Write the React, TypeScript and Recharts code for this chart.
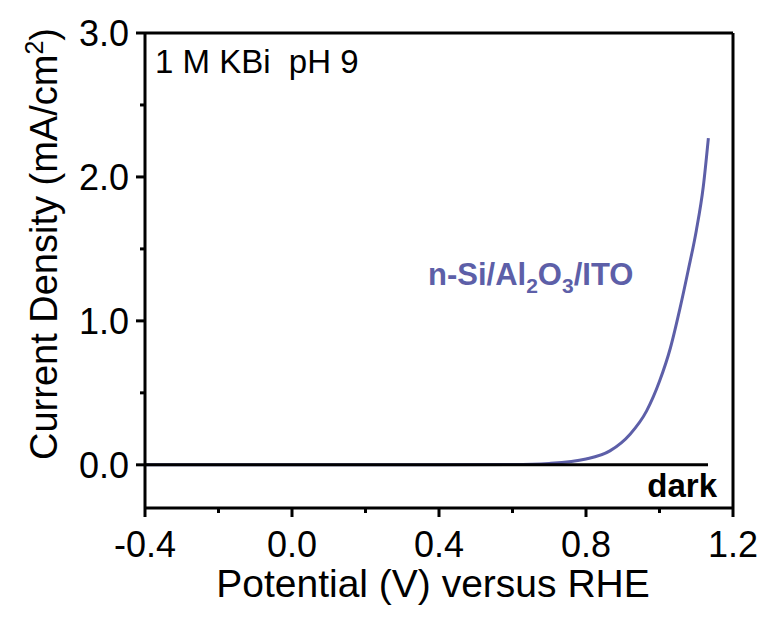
import { LineChart, Line, XAxis, YAxis, ReferenceLine } from 'recharts';

// potential (V vs RHE) for the illuminated n-Si/Al2O3/ITO sweep
const lightPotential = [-0.4, 0.0, 0.4, 0.6, 0.7, 0.8, 0.865, 0.92, 0.965, 1.0, 1.03, 1.056, 1.078, 1.1, 1.119, 1.133];
const lightCurrent = [0, 0, 0, 0.002, 0.01, 0.04, 0.097, 0.213, 0.375, 0.58, 0.815, 1.09, 1.35, 1.625, 1.93, 2.27];

// dark sweep stays flat at zero
const darkPotential = [-0.4, 0.4, 1.132];
const darkCurrent = [0, 0, 0];

const xMajor = [-0.4, 0.0, 0.4, 0.8, 1.2];
const xMinor = [-0.2, 0.2, 0.6, 1.0];
const yMajor = [0, 1, 2, 3];
const yMinor = [0.5, 1.5, 2.5];

const lightData = lightPotential.map((v, i) => ({ v, j: lightCurrent[i] }));
const darkData = darkPotential.map((v, i) => ({ v, j: darkCurrent[i] }));

const FONT = 'Arial, "Liberation Sans", sans-serif';
const BLUE = '#5d5fa8';

function XTick(props: any) {
  const { x, y, payload } = props;
  const major = xMajor.some((t) => Math.abs(t - payload.value) < 1e-6);
  return (
    <g>
      <line x1={x} y1={y} x2={x} y2={y + (major ? 9 : 5)} stroke="#000" strokeWidth={3} />
      {major && (
        <text x={x} y={y + 49} textAnchor="middle" fontSize={36} fontFamily={FONT} fill="#000">
          {payload.value.toFixed(1)}
        </text>
      )}
    </g>
  );
}

function YTick(props: any) {
  const { x, y, payload } = props;
  const major = yMajor.some((t) => Math.abs(t - payload.value) < 1e-6);
  return (
    <g>
      <line x1={x} y1={y} x2={x - (major ? 9 : 5)} y2={y} stroke="#000" strokeWidth={3} />
      {major && (
        <text x={x - 16} y={y + 13} textAnchor="end" fontSize={36} fontFamily={FONT} fill="#000">
          {payload.value.toFixed(1)}
        </text>
      )}
    </g>
  );
}

export default function App() {
  return (
    <div style={{ position: 'absolute', left: 0, top: 0, background: '#fff' }}>
      <LineChart width={769} height={619} margin={{ top: 33, right: 36, bottom: 0, left: 0 }}>
        <XAxis
          type="number"
          dataKey="v"
          domain={[-0.4, 1.2]}
          ticks={[...xMajor, ...xMinor].sort((a, b) => a - b)}
          interval={0}
          height={111}
          tickSize={0}
          tickMargin={0}
          tickLine={false}
          axisLine={{ stroke: '#000', strokeWidth: 3 }}
          tick={XTick}
          allowDataOverflow
          label={{
            value: 'Potential (V) versus RHE',
            position: 'insideBottom',
            offset: 22,
            dx: -6,
            fontSize: 39,
            fontFamily: FONT,
            fill: '#000',
          }}
        />
        <YAxis
          type="number"
          domain={[-0.3, 3.0]}
          ticks={[...yMajor, ...yMinor].sort((a, b) => a - b)}
          interval={0}
          width={145}
          tickSize={0}
          tickMargin={0}
          tickLine={false}
          axisLine={{ stroke: '#000', strokeWidth: 3 }}
          tick={YTick}
          allowDataOverflow
        />
        <ReferenceLine y={3} stroke="#000" strokeWidth={3} />
        <ReferenceLine x={1.2} stroke="#000" strokeWidth={3} />
        <Line
          data={lightData}
          dataKey="j"
          type="monotone"
          stroke={BLUE}
          strokeWidth={3}
          dot={false}
          isAnimationActive={false}
        />
        <Line
          data={darkData}
          dataKey="j"
          type="linear"
          stroke="#000"
          strokeWidth={3}
          dot={false}
          isAnimationActive={false}
        />
        <text
          x={57}
          y={244}
          transform="rotate(-90, 57, 244)"
          textAnchor="middle"
          fontSize={38}
          fontFamily={FONT}
          fill="#000"
        >
          Current Density (mA/cm
          <tspan dy={-14} fontSize={25}>2</tspan>
          <tspan dy={14}>)</tspan>
        </text>
        <text x={155} y={73} fontSize={33} fontFamily={FONT} fill="#000" style={{ whiteSpace: 'pre' }}>
          {'1 M KBi  pH 9'}
        </text>
        <text x={428} y={285} fontSize={31} fontWeight="bold" fontFamily={FONT} fill={BLUE}>
          n-Si/Al
          <tspan dy={8} fontSize={21}>2</tspan>
          <tspan dy={-8}>O</tspan>
          <tspan dy={8} fontSize={21}>3</tspan>
          <tspan dy={-8}>/ITO</tspan>
        </text>
        <text x={717} y={497} textAnchor="end" fontSize={33} fontWeight="bold" fontFamily={FONT} fill="#000">
          dark
        </text>
      </LineChart>
    </div>
  );
}
